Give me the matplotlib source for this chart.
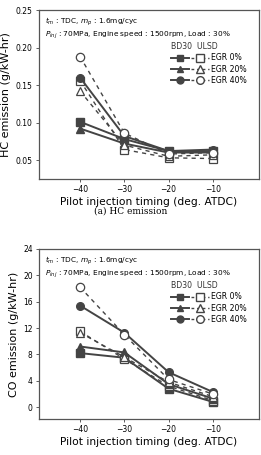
import numpy as np
import matplotlib
matplotlib.use("Agg")
import matplotlib.pyplot as plt
from matplotlib.lines import Line2D
from matplotlib.legend_handler import HandlerTuple

timing = [-40, -30, -20, -10]
egr_labels = ["EGR 0%", "EGR 20%", "EGR 40%"]
markers = ["s", "^", "o"]

# HC emission (g/kW-hr)
hc_bd30 = [[0.101, 0.078, 0.062, 0.062],
           [0.092, 0.072, 0.060, 0.060],
           [0.160, 0.082, 0.062, 0.064]]
hc_ulsd = [[0.156, 0.064, 0.053, 0.052],
           [0.142, 0.070, 0.055, 0.057],
           [0.188, 0.086, 0.058, 0.060]]

# CO emission (g/kW-hr)
co_bd30 = [[8.2, 7.5, 2.8, 0.8],
           [9.2, 8.3, 3.5, 1.3],
           [15.4, 11.3, 5.3, 2.3]]
co_ulsd = [[11.5, 7.3, 3.2, 1.0],
           [11.3, 7.6, 3.8, 1.6],
           [18.2, 11.0, 4.2, 2.0]]

c = "#444444"
fig = plt.figure(figsize=(2.61, 4.55), dpi=100)
ax1 = fig.add_axes([0.149, 0.607, 0.843, 0.371])
ax2 = fig.add_axes([0.149, 0.079, 0.843, 0.374])


def draw(ax, bd, ul, ylim, yticks, yfmt, ylabel):
    for i in range(3):
        ax.plot(timing, bd[i], "-", color=c, marker=markers[i], ms=5.5, lw=1.4)
        ax.plot(timing, ul[i], "--", color=c, marker=markers[i], ms=6, lw=1.0,
                mfc="white", mec=c, mew=0.9, dashes=(3, 3))
    ax.set_xlim(-49.3, 0.4)
    ax.set_ylim(*ylim)
    ax.set_xticks(timing)
    ax.set_yticks(yticks)
    ax.set_yticklabels([yfmt.format(v) for v in yticks])
    ax.tick_params(labelsize=5.5, length=2.5, width=0.6, color=c, pad=2)
    for s in ax.spines.values():
        s.set_color("#555555")
        s.set_linewidth(0.9)
    ax.set_xlabel("Pilot injection timing (deg. ATDC)", fontsize=7.7, labelpad=2)
    ax.set_ylabel(ylabel, fontsize=8.0, labelpad=3)
    ax.text(0.03, 0.965, r"$t_m$ : TDC, $m_p$ : 1.6mg/cyc", transform=ax.transAxes,
            fontsize=5.3, va="top")
    ax.text(0.03, 0.885, r"$P_{inj}$ : 70MPa, Engine speed : 1500rpm, Load : 30%",
            transform=ax.transAxes, fontsize=5.3, va="top")
    hs = []
    for m in markers:
        hb = Line2D([], [], color=c, marker=m, ms=5, lw=1.4)
        hu = Line2D([], [], color=c, ls="--", marker=m, ms=5.5, lw=1.0,
                    mfc="white", dashes=(2, 2))
        hs.append((hb, hu))
    leg = ax.legend(hs, egr_labels, frameon=False, fontsize=5.6,
                    handler_map={tuple: HandlerTuple(ndivide=None, pad=0.2)},
                    loc="upper left", bbox_to_anchor=(0.595, 0.815),
                    handlelength=5.0, handletextpad=0.2, labelspacing=0.3,
                    title="BD30  ULSD", title_fontsize=5.6, borderaxespad=0.0,
                    borderpad=0.1)
    leg._legend_box.align = "left"
    leg.get_title().set_color("#333333")


draw(ax1, hc_bd30, hc_ulsd, (0.025, 0.25), [0.05, 0.10, 0.15, 0.20, 0.25], "{:.2f}",
     "HC emission (g/kW-hr)")
draw(ax2, co_bd30, co_ulsd, (-1.8, 24), [0, 4, 8, 12, 16, 20, 24], "{:d}",
     "CO emission (g/kW-hr)")

fig.text(0.5, 1 - 211 / 455, "(a) HC emission", ha="center", va="center",
         fontsize=6.5, family="DejaVu Serif")

fig.savefig("out.png", dpi=100)
